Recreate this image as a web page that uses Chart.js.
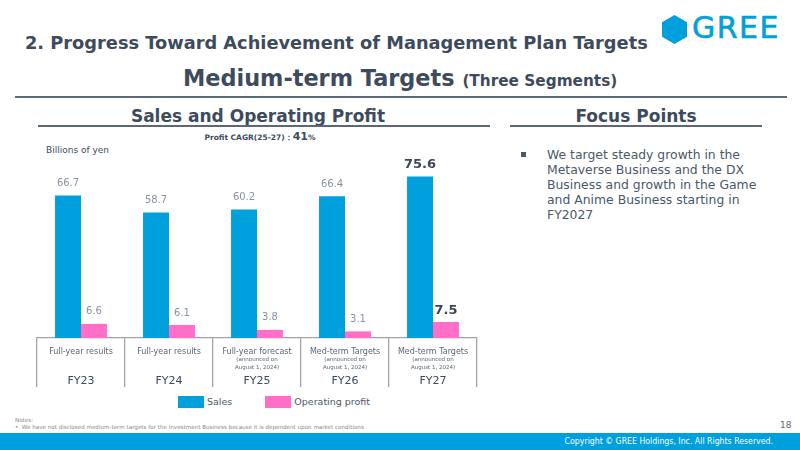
<!DOCTYPE html>
<html>
<head>
<meta charset="utf-8">
<script src="https://cdn.jsdelivr.net/npm/chart.js@4.4.1/dist/chart.umd.min.js"></script>
<style>
  body { margin: 0; width: 800px; height: 450px; position: relative; overflow: hidden; background: #fff; font-family: "DejaVu Sans", sans-serif; color: #3d4b5c; }
  .abs { position: absolute; white-space: nowrap; }
  #title { left: 25px; top: 32px; font-family: "DejaVu Sans", sans-serif; font-weight: bold; font-size: 17.8px; color: #3d4b5c; }
  #logo-hex { left: 662px; top: 15px; width: 25px; height: 29px; background: #00a0dc; clip-path: polygon(50% 0, 100% 25%, 100% 75%, 50% 100%, 0 75%, 0 25%); }
  #logo-txt { left: 692px; top: 10px; font-family: "DejaVu Sans", sans-serif; font-size: 30px; color: #00a0dc; letter-spacing: 1.5px; -webkit-text-stroke: 0.6px #00a0dc; }
  #sub { left: 183px; top: 65px; font-family: "DejaVu Sans", sans-serif; font-weight: bold; font-size: 22.4px; }
  #sub small { font-size: 15.3px; }
  .rule { position: absolute; height: 2px; background: #5c6877; }
  .sec { font-weight: bold; font-size: 17px; text-align: center; }
  #cagr { left: 160px; width: 200px; top: 130px; text-align: center; font-weight: bold; font-size: 7.5px; }
  #cagr b { font-size: 11px; }
  #unit { left: 46px; top: 145px; font-size: 9px; }
  #focus { left: 547px; top: 147px; width: 218px; font-size: 12.4px; line-height: 15px; color: #4a5868; white-space: normal; }
  #bullet { left: 521px; top: 152px; width: 5px; height: 5px; background: #4a5868; }
  #legend { left: 178px; top: 395px; font-size: 9.5px; color: #4a5868; }
  .lg { display: inline-block; vertical-align: middle; }
  .sw { width: 26px; height: 12px; margin-right: 3px; }
  #notes { left: 15px; top: 417px; font-size: 5.6px; color: #888; line-height: 7px; }
  #page { left: 780px; top: 420px; font-size: 9px; color: #666; }
  #foot { left: 0; top: 433px; width: 800px; height: 17px; background: #00a0dc; }
  #copy { right: 27px; top: 436px; font-family: "DejaVu Sans Condensed", "DejaVu Sans", sans-serif; font-size: 8.7px; color: #fff; }
</style>
</head>
<body>
<div class="abs" id="title">2. Progress Toward Achievement of Management Plan Targets</div>
<div class="abs" id="logo-hex"></div>
<div class="abs" id="logo-txt">GREE</div>
<div class="abs" id="sub">Medium-term Targets <small>(Three Segments)</small></div>
<div class="rule" style="left:15px;top:96px;width:772px;"></div>
<div class="abs sec" style="left:60px;width:396px;top:106px;">Sales and Operating Profit</div>
<div class="rule" style="left:38px;top:125px;width:452px;height:1.5px;"></div>
<div class="abs sec" style="left:510px;width:252px;top:106px;">Focus Points</div>
<div class="rule" style="left:510px;top:125px;width:252px;height:1.5px;"></div>
<div class="abs" id="cagr">Profit CAGR(25-27)：<b>41</b>%</div>
<div class="abs" id="unit">Billions of yen</div>
<div class="abs" id="bullet"></div>
<div class="abs" id="focus">We target steady growth in the Metaverse Business and the DX Business and growth in the Game and Anime Business starting in FY2027</div>

<div style="position:absolute;left:30px;top:140px;width:460px;height:252px;">
  <canvas id="chart"></canvas>
</div>
<div class="abs" id="legend"></div>

<div class="abs" id="notes">Notes:<br>&#8226;&nbsp; We have not disclosed medium-term targets for the Investment Business because it is dependent upon market conditions</div>
<div class="abs" id="page">18</div>
<div class="abs" id="foot"></div>
<div class="abs" id="copy">Copyright © GREE Holdings, Inc. All Rights Reserved.</div>

<script>
const years = ['FY23', 'FY24', 'FY25', 'FY26', 'FY27'];
const kinds = ['Full-year results', 'Full-year results', 'Full-year forecast', 'Med-term Targets', 'Med-term Targets'];
const notes = ['', '', '(announced on\nAugust 1, 2024)', '(announced on\nAugust 1, 2024)', '(announced on\nAugust 1, 2024)'];
const sales = [66.7, 58.7, 60.2, 66.4, 75.6];
const profit = [6.6, 6.1, 3.8, 3.1, 7.5];
const seriesNames = ['Sales', 'Operating profit'];
const seriesColors = ['#00a0dc', '#ff6fc8'];
const highlightIndex = 4;

const legendEl = document.getElementById('legend');
legendEl.innerHTML = seriesNames.map((n, i) =>
  `<span class="lg sw" style="background:${seriesColors[i]}"></span><span class="lg" style="margin-right:${i === 0 ? 33 : 0}px">${n}</span>`
).join('');

const valueLabels = {
  id: 'valueLabels',
  afterDatasetsDraw(chart) {
    const ctx = chart.ctx;
    ctx.save();
    ctx.textAlign = 'center';
    ctx.textBaseline = 'bottom';
    chart.data.datasets.forEach((ds, di) => {
      const meta = chart.getDatasetMeta(di);
      meta.data.forEach((bar, i) => {
        const hl = i === highlightIndex;
        ctx.fillStyle = hl ? '#3c4858' : '#8793a2';
        ctx.font = hl ? 'bold 13px "DejaVu Sans"' : '10px "DejaVu Sans"';
        ctx.fillText(ds.data[i].toFixed(1), bar.x, bar.y - (hl ? 5 : 7));
      });
    });
    ctx.restore();
  }
};

const categoryText = {
  id: 'categoryText',
  afterDraw(chart) {
    const ctx = chart.ctx;
    const xs = chart.scales.x;
    const top = chart.chartArea.bottom;
    ctx.save();
    ctx.textAlign = 'center';
    ctx.textBaseline = 'middle';
    years.forEach((y, i) => {
      const x = xs.getPixelForTick(i);
      ctx.fillStyle = '#5a6673';
      ctx.font = '8px "DejaVu Sans"';
      ctx.fillText(kinds[i], x, top + 14);
      if (notes[i]) {
        ctx.font = '5.5px "DejaVu Sans"';
        notes[i].split('\n').forEach((ln, k) => ctx.fillText(ln, x, top + 22 + k * 7.5));
      }
      ctx.fillStyle = '#3c4a5a';
      ctx.font = '11px "DejaVu Sans"';
      ctx.fillText(y, x, top + 43);
    });
    ctx.restore();
  }
};

new Chart(document.getElementById('chart'), {
  type: 'bar',
  data: {
    labels: years,
    datasets: [
      { label: seriesNames[0], data: sales, backgroundColor: seriesColors[0] },
      { label: seriesNames[1], data: profit, backgroundColor: seriesColors[1] }
    ]
  },
  options: {
    responsive: true,
    maintainAspectRatio: false,
    animation: false,
    layout: { padding: { left: 7, right: 13, top: 10, bottom: 4 } },
    plugins: { legend: { display: false }, tooltip: { enabled: false } },
    datasets: { bar: { categoryPercentage: 0.59, barPercentage: 1 } },
    scales: {
      x: {
        grid: { offset: true, drawOnChartArea: false, drawTicks: true, tickLength: 49, color: '#a3a3a3', lineWidth: 1.3 },
        border: { color: '#a3a3a3', width: 1.3 },
        ticks: { display: false },
        afterFit(scale) { scale.height = 50; }
      },
      y: {
        display: false,
        min: 0,
        max: 88
      }
    }
  },
  plugins: [valueLabels, categoryText]
});
</script>
</body>
</html>
